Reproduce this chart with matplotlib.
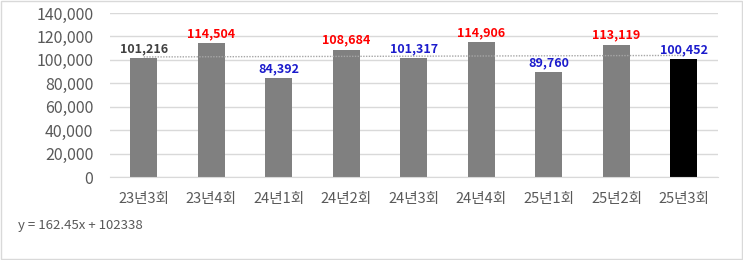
import numpy as np
import matplotlib
matplotlib.use("Agg")
import matplotlib.pyplot as plt
from matplotlib.patches import Rectangle

plt.rcParams['font.family'] = ['Noto Sans CJK KR', 'DejaVu Sans']

# data
rounds = ["23년3회", "23년4회", "24년1회", "24년2회", "24년3회",
          "24년4회", "25년1회", "25년2회", "25년3회"]
counts = [101216, 114504, 84392, 108684, 101317, 114906, 89760, 113119, 100452]
label_colors = ["#404040", "#FF0000", "#1C1CCC", "#FF0000", "#1C1CCC",
                "#FF0000", "#1C1CCC", "#FF0000", "#1C1CCC"]
bar_colors = ["#808080"] * 8 + ["#000000"]
trend_slope = 162.45
trend_icept = 102338

fig = plt.figure(figsize=(7.43, 2.60), dpi=100)
ax = fig.add_axes([0.148, 0.319, 0.818, 0.631])

x = np.arange(len(rounds))
ax.bar(x, counts, width=0.4, color=bar_colors, zorder=2)

# linear trendline (x = 1..9)
tx = np.array([1, len(rounds)])
ax.plot(tx - 1, trend_slope * tx + trend_icept, color="#A6A6A6",
        linestyle=(0, (1, 1)), linewidth=1.0, zorder=3)

for xi, v, c in zip(x, counts, label_colors):
    ax.text(xi, v + 2500, f"{v:,}", ha="center", va="bottom", color=c,
            fontsize=9, fontweight="bold", zorder=4)

ax.set_xlim(-0.5, len(rounds) - 0.5)
ax.set_ylim(0, 140000)
ax.set_yticks(np.arange(0, 140001, 20000))
ax.set_yticklabels([f"{v:,}" for v in range(0, 140001, 20000)])
ax.set_xticks(x)
ax.set_xticklabels(rounds)
ax.tick_params(axis="y", length=0, labelsize=11.5, labelcolor="#595959", pad=12)
ax.tick_params(axis="x", length=0, labelsize=10.5, labelcolor="#595959", pad=11)
ax.grid(axis="y", color="#D9D9D9", linewidth=1.0, zorder=0)
ax.set_axisbelow(True)
for s in ["top", "right", "left"]:
    ax.spines[s].set_visible(False)
ax.spines["bottom"].set_color("#D9D9D9")

fig.text(18 / 743, 1 - 225 / 260, "y = 162.45x + 102338", fontsize=9.5,
         color="#595959", va="center", ha="left")

fig.patches.append(Rectangle((0.001, 0.002), 0.997, 0.995, transform=fig.transFigure,
                             fill=False, edgecolor="#D9D9D9", linewidth=1.0))

fig.savefig("out.png", dpi=100)
